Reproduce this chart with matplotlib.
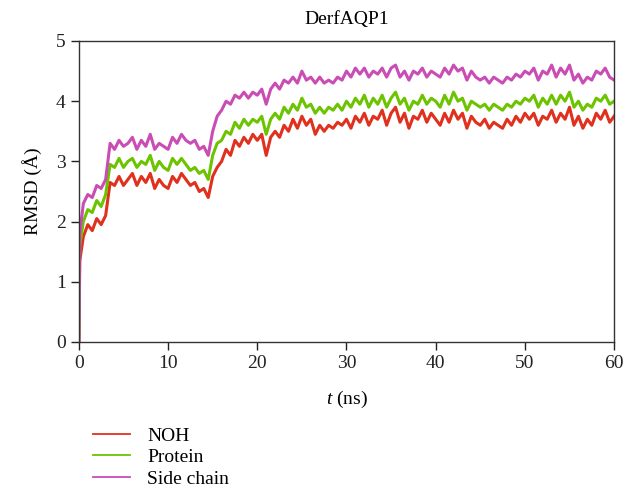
import numpy as np
import matplotlib
matplotlib.use("Agg")
import matplotlib.pyplot as plt

plt.rcParams['font.family'] = ['Liberation Serif', 'DejaVu Serif']
plt.rcParams['mathtext.fontset'] = 'custom'
plt.rcParams['mathtext.rm'] = 'Liberation Serif'
plt.rcParams['mathtext.it'] = 'Liberation Serif:italic'

# time axis (ns): 0, 0.1, then every 0.5 ns
t = np.r_[0.0, 0.1, np.arange(0.5, 60.01, 0.5)]

# RMSD values (Angstrom)
noh = [0.0, 1.35,
       1.75, 1.95, 1.85, 2.05, 1.95, 2.1, 2.65, 2.6, 2.75, 2.6,
       2.7, 2.8, 2.6, 2.75, 2.65, 2.8, 2.55, 2.7, 2.6, 2.55,
       2.75, 2.65, 2.8, 2.7, 2.6, 2.65, 2.5, 2.55, 2.4, 2.75,
       2.9, 3.0, 3.2, 3.1, 3.35, 3.25, 3.4, 3.3, 3.45, 3.35,
       3.45, 3.1, 3.4, 3.5, 3.4, 3.6, 3.5, 3.7, 3.55, 3.75,
       3.6, 3.7, 3.45, 3.6, 3.5, 3.6, 3.55, 3.65, 3.6, 3.7,
       3.55, 3.75, 3.65, 3.8, 3.6, 3.75, 3.7, 3.85, 3.6, 3.8,
       3.9, 3.65, 3.8, 3.55, 3.75, 3.7, 3.85, 3.65, 3.8, 3.7,
       3.6, 3.8, 3.65, 3.85, 3.7, 3.8, 3.55, 3.75, 3.65, 3.6,
       3.7, 3.55, 3.65, 3.6, 3.55, 3.7, 3.6, 3.75, 3.65, 3.8,
       3.7, 3.8, 3.6, 3.75, 3.7, 3.85, 3.65, 3.8, 3.7, 3.9,
       3.6, 3.75, 3.55, 3.7, 3.6, 3.8, 3.7, 3.85, 3.65, 3.75]

protein = [0.0, 1.6,
           2.0, 2.2, 2.15, 2.35, 2.25, 2.45, 2.95, 2.9, 3.05, 2.9,
           3.0, 3.05, 2.9, 3.0, 2.95, 3.1, 2.85, 3.0, 2.9, 2.85,
           3.05, 2.95, 3.05, 2.95, 2.85, 2.9, 2.8, 2.85, 2.7, 3.1,
           3.3, 3.35, 3.5, 3.45, 3.65, 3.55, 3.7, 3.6, 3.7, 3.65,
           3.75, 3.45, 3.7, 3.8, 3.7, 3.9, 3.8, 3.95, 3.85, 4.05,
           3.9, 3.95, 3.8, 3.9, 3.8, 3.9, 3.85, 3.95, 3.85, 4.0,
           3.9, 4.05, 3.95, 4.1, 3.9, 4.05, 3.95, 4.1, 3.9, 4.05,
           4.15, 3.95, 4.05, 3.85, 4.0, 3.95, 4.1, 3.95, 4.05, 4.0,
           3.9, 4.1, 3.95, 4.15, 4.0, 4.05, 3.85, 4.0, 3.95, 3.9,
           3.95, 3.85, 3.95, 3.9, 3.85, 3.95, 3.9, 4.0, 3.95, 4.05,
           4.0, 4.1, 3.9, 4.05, 3.95, 4.1, 3.95, 4.1, 4.0, 4.15,
           3.9, 4.0, 3.85, 3.95, 3.9, 4.05, 4.0, 4.1, 3.95, 4.0]

side_chain = [0.0, 1.8,
              2.3, 2.45, 2.4, 2.6, 2.55, 2.7, 3.3, 3.2, 3.35, 3.25,
              3.3, 3.4, 3.2, 3.35, 3.25, 3.45, 3.2, 3.3, 3.25, 3.2,
              3.4, 3.3, 3.45, 3.35, 3.3, 3.35, 3.2, 3.25, 3.1, 3.5,
              3.75, 3.85, 4.0, 3.95, 4.1, 4.05, 4.15, 4.05, 4.15, 4.1,
              4.2, 3.95, 4.2, 4.3, 4.2, 4.35, 4.3, 4.4, 4.3, 4.5,
              4.35, 4.4, 4.3, 4.4, 4.3, 4.35, 4.3, 4.4, 4.35, 4.5,
              4.4, 4.55, 4.45, 4.55, 4.4, 4.5, 4.45, 4.55, 4.4, 4.55,
              4.6, 4.4, 4.5, 4.35, 4.5, 4.45, 4.55, 4.4, 4.5, 4.45,
              4.4, 4.55, 4.45, 4.6, 4.5, 4.55, 4.35, 4.5, 4.4, 4.35,
              4.4, 4.3, 4.4, 4.35, 4.3, 4.4, 4.35, 4.45, 4.4, 4.5,
              4.45, 4.55, 4.35, 4.5, 4.45, 4.6, 4.4, 4.55, 4.45, 4.6,
              4.35, 4.45, 4.3, 4.4, 4.35, 4.5, 4.45, 4.55, 4.4, 4.35]

labels = ["NOH", "Protein", "Side chain"]
colors = ["#e0301e", "#6cc400", "#c94db4"]

fig = plt.figure(figsize=(6.26, 4.91), dpi=100)
ax = fig.add_axes([0.126, 0.3035, 0.855, 0.613])

for y, lab, c in zip([noh, protein, side_chain], labels, colors):
    ax.plot(t, y, color=c, lw=2.2, label=lab)

ax.set_xlim(0, 60)
ax.set_ylim(0, 5)
ax.set_xticks(np.arange(0, 61, 10))
ax.set_yticks(np.arange(0, 6, 1))
ax.tick_params(direction='out', length=6, width=1, labelsize=14, colors='#222222')
for s in ax.spines.values():
    s.set_linewidth(1.0)
    s.set_color('#333333')

ax.set_title("DerfAQP1", fontsize=14, pad=12)
ax.set_xlabel("$t$ (ns)", fontsize=14, labelpad=12)
ax.set_ylabel("RMSD (Å)", fontsize=14, labelpad=10)

leg = fig.legend(loc='upper left', bbox_to_anchor=(0.133, 0.15), frameon=False,
                 fontsize=14, handlelength=1.9, handletextpad=0.9, labelspacing=0.2,
                 borderpad=0)
for h in leg.get_lines():
    h.set_linewidth(1.3)

fig.savefig("out.png", dpi=100)
